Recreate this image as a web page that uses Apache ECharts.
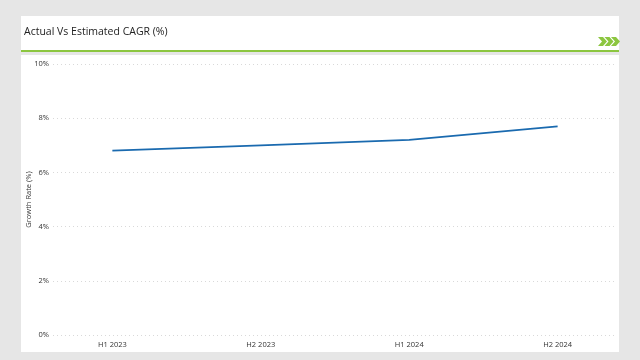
<!DOCTYPE html>
<html>
<head>
<meta charset="utf-8">
<script src="https://cdn.jsdelivr.net/npm/echarts@6/dist/echarts.min.js"></script>
<style>
  html, body { margin: 0; padding: 0; background: #e6e6e6; }
  #wrap { position: relative; width: 640px; height: 360px; overflow: hidden; background: #e6e6e6; }
  #head { position: absolute; left: 21px; top: 16px; width: 598px; height: 34px; background: #ffffff; }
  #rule { position: absolute; left: 21px; top: 50px; width: 598px; height: 2px; background: #8cc640; }
  #body { position: absolute; left: 21px; top: 55px; width: 598px; height: 297px; background: #ffffff; }
  #chart { position: absolute; left: 0; top: 0; width: 640px; height: 360px; }
</style>
</head>
<body>
<div id="wrap">
  <div id="head"></div>
  <div id="rule"></div>
  <div id="body"></div>
  <div id="chart"></div>
</div>
<script>
const categories = ["H1 2023", "H2 2023", "H1 2024", "H2 2024"];
const growthRate = [6.8, 7.0, 7.2, 7.7];
const yTicks = [0, 2, 4, 6, 8, 10];

const seriesData = growthRate.map((v, i) => [i, v]);
const FONT = '"Open Sans", "Liberation Sans", sans-serif';

const chart = echarts.init(document.getElementById('chart'), null, { renderer: 'canvas' });
chart.setOption({
  backgroundColor: 'transparent',
  animation: false,
  title: {
    text: 'Actual Vs Estimated CAGR (%)',
    left: 24, top: 27, padding: 0,
    textStyle: { fontFamily: FONT, fontSize: 10.5, fontWeight: 'normal', color: '#222' }
  },
  graphic: [0, 1, 2].map(k => ({
    type: 'polygon',
    shape: { points: [[598 + k * 6.5, 37], [603 + k * 6.5, 37], [607 + k * 6.5, 41.5], [603 + k * 6.5, 46], [598 + k * 6.5, 46], [602 + k * 6.5, 41.5]] },
    style: { fill: '#8cc640' }
  })),
  grid: { left: 53, right: 23, top: 64, bottom: 25, containLabel: false },
  xAxis: {
    type: 'value',
    min: -0.4, max: 3.4,
    axisLine: { show: false },
    axisTick: { show: false },
    splitLine: { show: false },
    axisLabel: {
      customValues: categories.map((c, i) => i),
      formatter: v => categories[Math.round(v)] || '',
      fontFamily: FONT, fontSize: 7.5, color: '#333', margin: 6
    }
  },
  yAxis: {
    type: 'value',
    min: yTicks[0], max: yTicks[yTicks.length - 1], interval: 2,
    name: 'Growth Rate (%)',
    nameLocation: 'middle',
    nameGap: 20,
    nameMoveOverlap: false,
    nameTextStyle: { fontFamily: FONT, fontSize: 7.5, color: '#333' },
    axisLine: { show: false },
    axisTick: { show: false },
    axisLabel: { formatter: '{value}%', fontFamily: FONT, fontSize: 7.5, color: '#333', margin: 4 },
    splitLine: { show: true, lineStyle: { color: '#d9d9d9', type: [1, 3], width: 1 } }
  },
  series: [{
    type: 'line',
    data: seriesData,
    showSymbol: false,
    symbol: 'none',
    lineStyle: { color: '#1a6aaf', width: 1.8 },
    itemStyle: { color: '#1a6aaf' }
  }]
});
</script>
</body>
</html>
